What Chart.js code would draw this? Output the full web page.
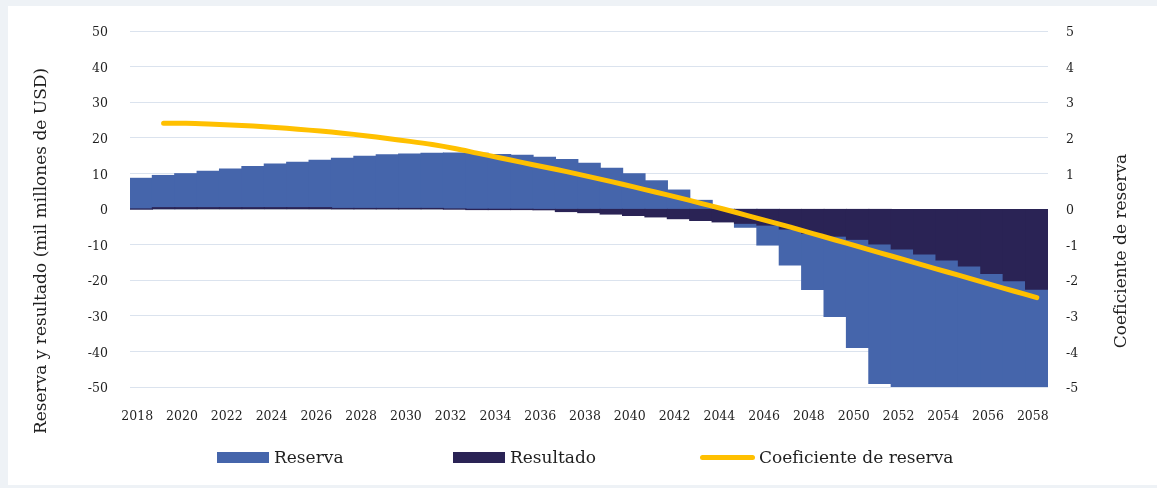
<!DOCTYPE html>
<html lang="es">
<head>
<meta charset="utf-8">
<title>Reserva y resultado</title>
<script src="https://cdn.jsdelivr.net/npm/chart.js@4.4.1/dist/chart.umd.min.js"></script>
<style>
  html, body { margin: 0; padding: 0; }
  body {
    width: 1157px; height: 488px; overflow: hidden;
    background: #eef2f6; position: relative;
    font-family: 'DejaVu Serif', serif;
  }
  .panel { position: absolute; left: 8px; top: 6px; width: 1149px; height: 479px; background: #fff; }
  #chart { display: block; }
  .legend { position: absolute; top: 440px; left: 0; width: 100%; height: 22px; }
  .legend-item { position: absolute; top: 0; height: 22px; display: flex; align-items: center; color: #1f1f1f; font-size: 17px; white-space: nowrap; }
  .legend-item .swatch { width: 52px; height: 11px; margin-right: 5px; }
  .legend-item .swatch.line { width: 55px; height: 5px; border-radius: 3px; margin-right: 4px; }
</style>
</head>
<body>
<div class="panel">
  <canvas id="chart" width="1149" height="479"></canvas>
  <div class="legend" id="legend"></div>
</div>
<script>
// Years 2018-2058
const years = [
  '2018', '2019', '2020', '2021', '2022', '2023', '2024', '2025', '2026', '2027',
  '2028', '2029', '2030', '2031', '2032', '2033', '2034', '2035', '2036', '2037',
  '2038', '2039', '2040', '2041', '2042', '2043', '2044', '2045', '2046', '2047',
  '2048', '2049', '2050', '2051', '2052', '2053', '2054', '2055', '2056', '2057', '2058'
];
// only every other year gets a label on the x axis
const shownYears = [
  '2018', '2020', '2022', '2024', '2026', '2028', '2030', '2032', '2034', '2036', '2038',
  '2040', '2042', '2044', '2046', '2048', '2050', '2052', '2054', '2056', '2058'
];

// mil millones de USD
const reserva = [
  8.6, 9.4, 9.9, 10.6, 11.2, 11.9, 12.6, 13.1, 13.7, 14.2,
  14.8, 15.2, 15.4, 15.6, 15.7, 15.6, 15.3, 15.1, 14.5, 13.9,
  12.8, 11.4, 9.9, 7.9, 5.3, 2.4, -1.1, -5.1, -10.1, -15.7,
  -22.6, -30.2, -38.9, -49.0, -60.0, -73.0, -88.0, -104.0, -122.0, -142.0, -164.0
];
const resultado = [
  0, 0.35, 0.35, 0.35, 0.35, 0.35, 0.35, 0.35, 0.35, 0.1,
  0.1, 0.1, 0.1, 0.1, 0, -0.1, -0.1, -0.1, -0.2, -0.7,
  -1.0, -1.4, -1.8, -2.2, -2.7, -3.2, -3.6, -4.0, -4.5, -5.6,
  -6.8, -7.6, -8.5, -9.8, -11.2, -12.6, -14.3, -16.0, -18.1, -20.1, -22.5
];
// reserve coefficient (right axis), starts in 2019
const coeficiente = [
  null, 2.41, 2.41, 2.39, 2.36, 2.33, 2.29, 2.24, 2.19, 2.13,
  2.06, 1.98, 1.90, 1.81, 1.70, 1.57, 1.44, 1.31, 1.18, 1.05,
  0.91, 0.77, 0.62, 0.47, 0.32, 0.16, 0.00, -0.17, -0.34, -0.51,
  -0.69, -0.87, -1.05, -1.23, -1.41, -1.59, -1.77, -1.95, -2.13, -2.31, -2.49
];

const leftTitle = 'Reserva y resultado (mil millones de USD)';
const rightTitle = 'Coeficiente de reserva';

const FONT = "'DejaVu Serif', serif";
const TEXT = '#1f1f1f';

Chart.defaults.font.family = FONT;
Chart.defaults.color = TEXT;

// both axis titles read bottom-to-top, so they are drawn here instead of scale.title
const axisTitles = {
  id: 'axisTitles',
  afterDraw(chart) {
    const ctx = chart.ctx;
    const midY = 245;
    ctx.save();
    ctx.font = '17px ' + FONT;
    ctx.fillStyle = TEXT;
    ctx.textAlign = 'center';
    ctx.textBaseline = 'middle';
    [[leftTitle, 34], [rightTitle, 1114]].forEach(([text, x]) => {
      ctx.save();
      ctx.translate(x, midY);
      ctx.rotate(-Math.PI / 2);
      ctx.fillText(text, 0, 0);
      ctx.restore();
    });
    ctx.restore();
  }
};

const barDefaults = {
  grouped: false,
  barPercentage: 1,
  categoryPercentage: 1,
  borderWidth: 0,
  inflateAmount: 0.6
};

const chart = new Chart(document.getElementById('chart'), {
  type: 'bar',
  data: {
    labels: years,
    datasets: [
      { ...barDefaults, label: 'Reserva', data: reserva, backgroundColor: '#4565ab', order: 2 },
      { ...barDefaults, label: 'Resultado', data: resultado, backgroundColor: '#2a2355', order: 1 },
      {
        type: 'line',
        label: 'Coeficiente de reserva',
        data: coeficiente,
        yAxisID: 'y1',
        borderColor: '#ffc000',
        backgroundColor: '#ffc000',
        borderWidth: 5,
        borderCapStyle: 'round',
        borderJoinStyle: 'round',
        pointRadius: 0,
        tension: 0.3,
        order: 0
      }
    ]
  },
  options: {
    responsive: false,
    animation: false,
    devicePixelRatio: 1,
    layout: { padding: { top: 25, bottom: 58, left: 0, right: 0 } },
    plugins: {
      legend: { display: false },
      tooltip: { enabled: false }
    },
    scales: {
      x: {
        grid: { display: false, drawTicks: false },
        border: { display: false },
        ticks: {
          autoSkip: false,
          maxRotation: 0,
          padding: 22,
          labelOffset: -4,
          color: TEXT,
          font: { size: 12.5 },
          callback(value) {
            const label = this.getLabelForValue(value);
            return shownYears.includes(label) ? label : '';
          }
        },
        afterFit(scale) { scale.height = 40; }
      },
      y: {
        position: 'left',
        min: -50,
        max: 50,
        border: { display: false },
        // invisible tick marks keep the labels away from the plot
        grid: {
          tickLength: 22,
          tickColor: 'rgba(0,0,0,0)',
          color: (c) => c.tick && c.tick.value === 0 ? '#c3c7ce' : '#dbe3ee'
        },
        ticks: { stepSize: 10, padding: 0, labelOffset: 2, color: TEXT, font: { size: 12.5 } },
        afterFit(scale) { scale.width = 122; }
      },
      y1: {
        position: 'right',
        min: -5,
        max: 5,
        border: { display: false },
        grid: { drawOnChartArea: false, tickLength: 18, tickColor: 'rgba(0,0,0,0)' },
        ticks: { stepSize: 1, padding: 0, labelOffset: 2, color: TEXT, font: { size: 12.5 } },
        afterFit(scale) { scale.width = 109; }
      }
    }
  },
  plugins: [axisTitles]
});

// legend under the chart, built from the datasets
const legendSlots = [209, 445, 692];
const legendEl = document.getElementById('legend');
chart.data.datasets.forEach((ds, i) => {
  const item = document.createElement('div');
  item.className = 'legend-item';
  item.style.left = legendSlots[i] + 'px';
  const sw = document.createElement('span');
  sw.className = 'swatch' + (ds.type === 'line' ? ' line' : '');
  sw.style.background = ds.type === 'line' ? ds.borderColor : ds.backgroundColor;
  item.appendChild(sw);
  item.appendChild(document.createTextNode(ds.label));
  legendEl.appendChild(item);
});
</script>
</body>
</html>
